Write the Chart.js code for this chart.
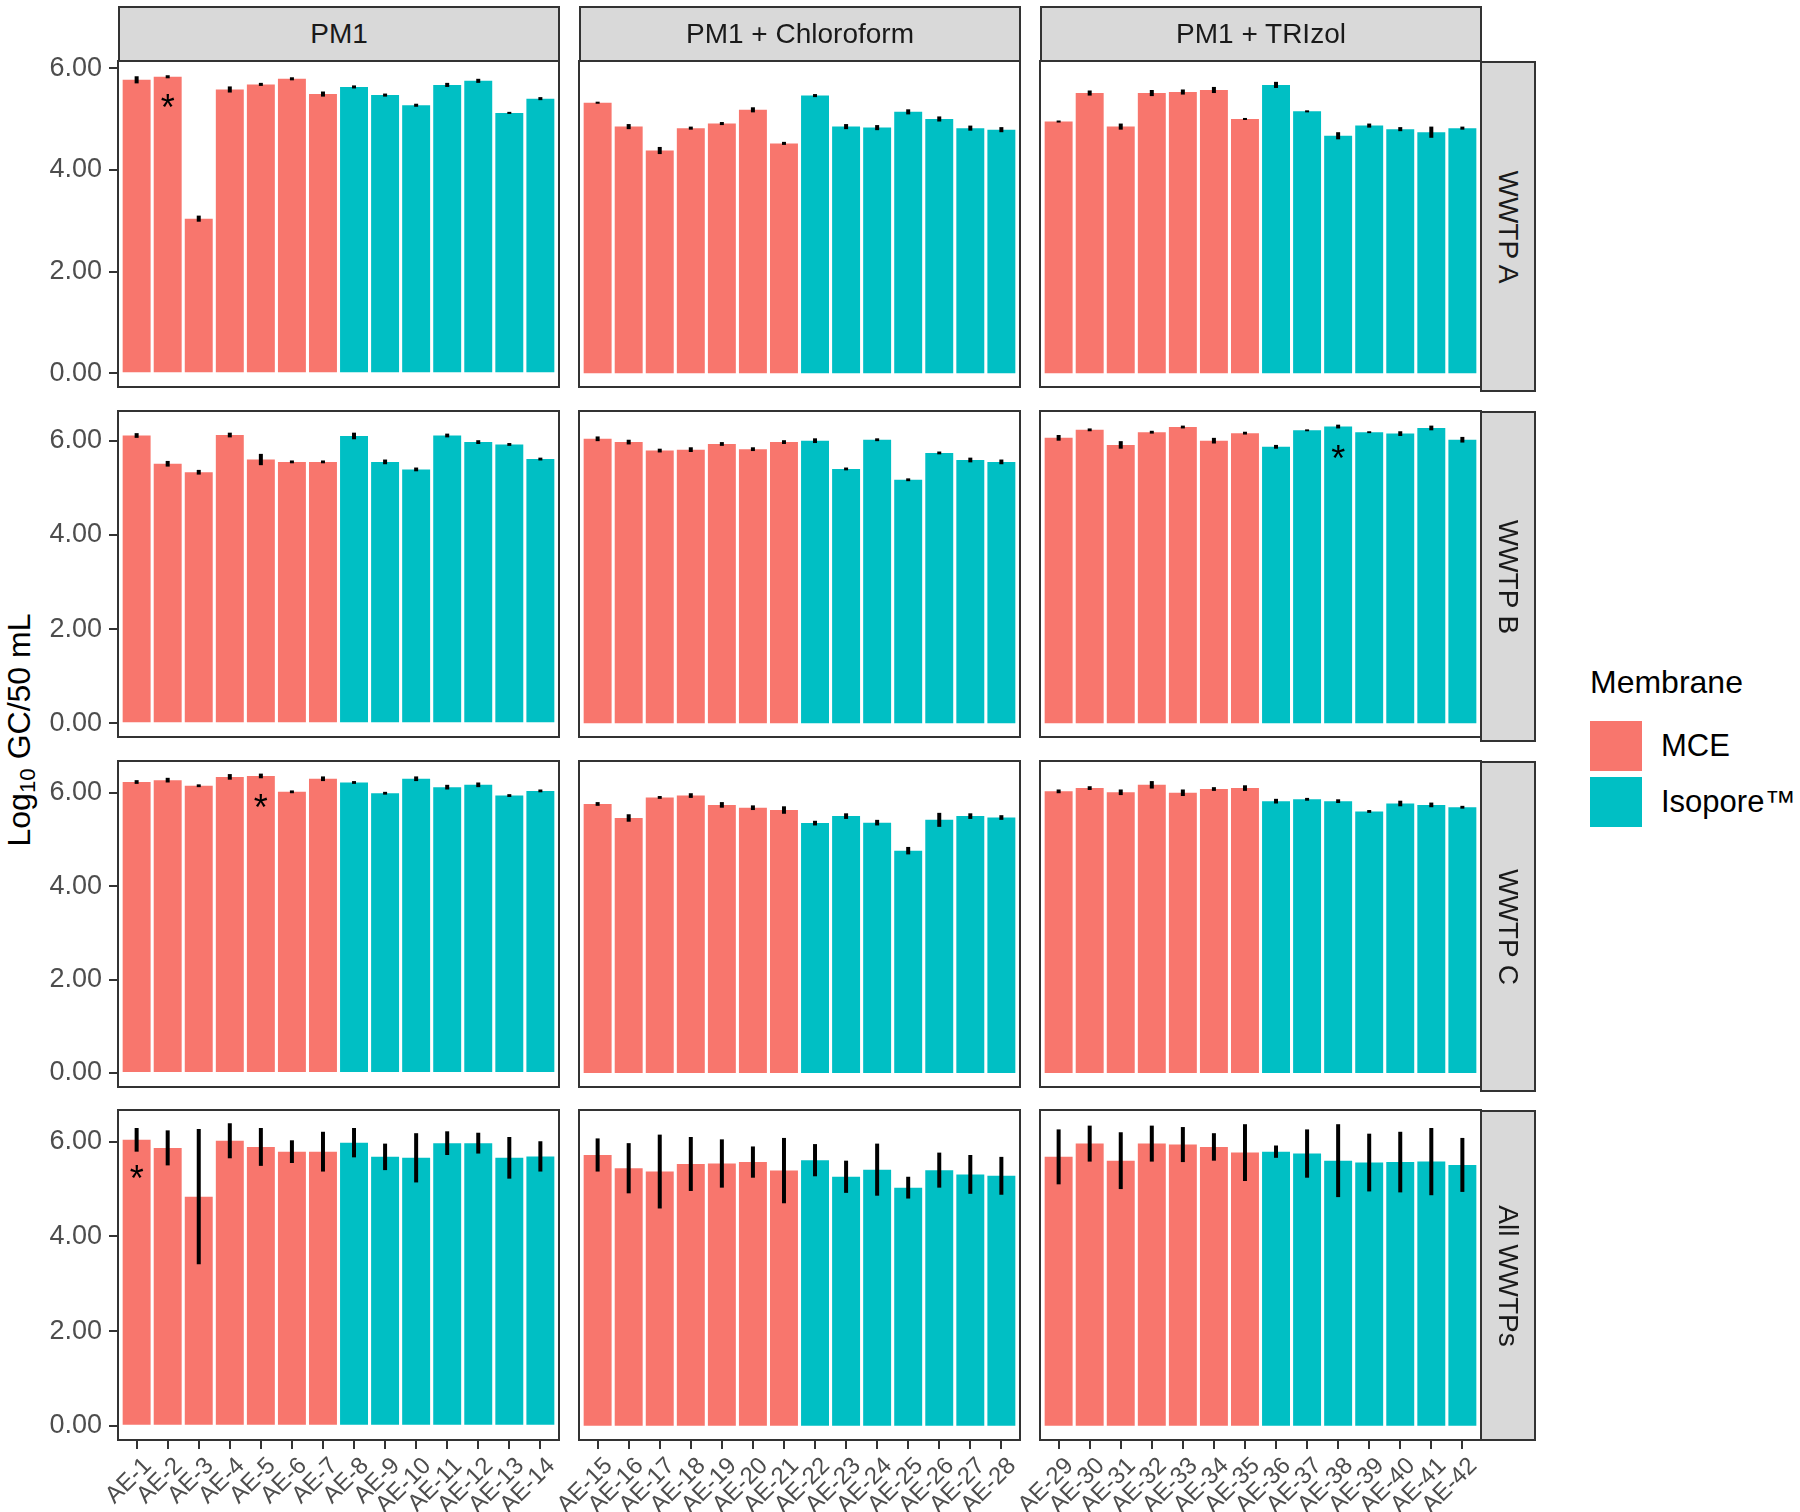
<!DOCTYPE html>
<html>
<head>
<meta charset="utf-8">
<script src="https://cdn.jsdelivr.net/npm/chart.js@4/dist/chart.umd.min.js"></script>
<style>
    body { margin: 0; background: #fff; }
    #fig { position: relative; width: 1800px; height: 1512px; overflow: hidden;
           font-family: "Liberation Sans", Arial, sans-serif; }
    #fig canvas { position: absolute; }
    .strip { position: absolute; box-sizing: border-box; background: #d9d9d9; border: 2px solid #333;
             color: #1a1a1a; font-size: 28px; display: flex; align-items: center; justify-content: center; }
    .strip span { white-space: nowrap; }
    .strip.side span { transform: rotate(90deg); }
    #ytitle { position: absolute; left: 21px; top: 730px; transform: translate(-50%, -50%) rotate(-90deg);
              font-size: 32px; white-space: nowrap; color: #000; }
    #ytitle sub { font-size: 70%; vertical-align: -0.25em; }
    .legtitle { position: absolute; left: 1590px; top: 664px; font-size: 32px; color: #000; }
    .key { position: absolute; left: 1590px; width: 52px; height: 50px; }
    .keylab { position: absolute; left: 1661px; font-size: 31px; color: #000; line-height: 50px; white-space: nowrap; }
</style>
</head>
<body>
<div id="fig">
    <div id="ytitle">Log<sub>10</sub> GC/50 mL</div>
</div>
<script>
// 样本与分组
var samples = ['AE-1', 'AE-2', 'AE-3', 'AE-4', 'AE-5', 'AE-6', 'AE-7',
    'AE-8', 'AE-9', 'AE-10', 'AE-11', 'AE-12', 'AE-13', 'AE-14',
    'AE-15', 'AE-16', 'AE-17', 'AE-18', 'AE-19', 'AE-20', 'AE-21',
    'AE-22', 'AE-23', 'AE-24', 'AE-25', 'AE-26', 'AE-27', 'AE-28',
    'AE-29', 'AE-30', 'AE-31', 'AE-32', 'AE-33', 'AE-34', 'AE-35',
    'AE-36', 'AE-37', 'AE-38', 'AE-39', 'AE-40', 'AE-41', 'AE-42'];
var membrane = ['MCE', 'MCE', 'MCE', 'MCE', 'MCE', 'MCE', 'MCE',
    'Isopore™', 'Isopore™', 'Isopore™', 'Isopore™', 'Isopore™', 'Isopore™', 'Isopore™',
    'MCE', 'MCE', 'MCE', 'MCE', 'MCE', 'MCE', 'MCE',
    'Isopore™', 'Isopore™', 'Isopore™', 'Isopore™', 'Isopore™', 'Isopore™', 'Isopore™',
    'MCE', 'MCE', 'MCE', 'MCE', 'MCE', 'MCE', 'MCE',
    'Isopore™', 'Isopore™', 'Isopore™', 'Isopore™', 'Isopore™', 'Isopore™', 'Isopore™'];
var membraneNames = ['MCE', 'Isopore™'];
var treatments = ['PM1', 'PM1 + Chloroform', 'PM1 + TRIzol'];
var plants = ['WWTP A', 'WWTP B', 'WWTP C', 'All WWTPs'];

var yTicks = [0, 2, 4, 6];
var yTickLabels = ['0.00', '2.00', '4.00', '6.00'];

// WWTP A
var meanA = [5.77, 5.83, 3.04, 5.58, 5.68, 5.79, 5.49, 5.63, 5.47, 5.27, 5.67, 5.75, 5.12, 5.40,
    5.32, 4.85, 4.38, 4.82, 4.91, 5.18, 4.52, 5.46, 4.85, 4.83, 5.14, 5.00, 4.82, 4.79,
    4.95, 5.51, 4.85, 5.51, 5.53, 5.57, 5.00, 5.67, 5.15, 4.67, 4.87, 4.80, 4.74, 4.82];
var errA = [0.07, 0.03, 0.06, 0.06, 0.03, 0.03, 0.05, 0.03, 0.03, 0.03, 0.04, 0.04, 0.02, 0.03,
    0.02, 0.05, 0.07, 0.03, 0.03, 0.05, 0.03, 0.03, 0.05, 0.05, 0.05, 0.05, 0.05, 0.05,
    0.02, 0.05, 0.06, 0.06, 0.05, 0.06, 0.02, 0.06, 0.02, 0.07, 0.04, 0.04, 0.11, 0.03];

// WWTP B
var meanB = [6.11, 5.51, 5.33, 6.12, 5.60, 5.55, 5.55, 6.10, 5.55, 5.39, 6.11, 5.97, 5.92, 5.61,
    6.04, 5.97, 5.79, 5.81, 5.93, 5.82, 5.97, 6.00, 5.40, 6.02, 5.17, 5.74, 5.59, 5.55,
    6.06, 6.23, 5.91, 6.18, 6.29, 6.00, 6.16, 5.87, 6.22, 6.30, 6.18, 6.15, 6.27, 6.02];
var errB = [0.05, 0.06, 0.05, 0.05, 0.12, 0.03, 0.03, 0.07, 0.05, 0.04, 0.04, 0.04, 0.03, 0.03,
    0.05, 0.05, 0.04, 0.05, 0.04, 0.04, 0.04, 0.05, 0.03, 0.03, 0.03, 0.03, 0.05, 0.05,
    0.06, 0.03, 0.08, 0.03, 0.03, 0.06, 0.03, 0.04, 0.02, 0.04, 0.02, 0.05, 0.05, 0.06];

// WWTP C
var meanC = [6.23, 6.27, 6.15, 6.34, 6.36, 6.02, 6.30, 6.22, 5.99, 6.30, 6.12, 6.17, 5.94, 6.04,
    5.76, 5.46, 5.90, 5.94, 5.74, 5.68, 5.63, 5.35, 5.50, 5.36, 4.76, 5.42, 5.50, 5.47,
    6.03, 6.10, 6.01, 6.17, 6.00, 6.08, 6.10, 5.82, 5.86, 5.82, 5.60, 5.77, 5.74, 5.69];
var errC = [0.04, 0.05, 0.03, 0.06, 0.05, 0.03, 0.05, 0.03, 0.03, 0.05, 0.05, 0.05, 0.03, 0.03,
    0.04, 0.08, 0.03, 0.05, 0.06, 0.05, 0.08, 0.05, 0.06, 0.06, 0.08, 0.15, 0.06, 0.05,
    0.04, 0.04, 0.06, 0.08, 0.07, 0.04, 0.06, 0.05, 0.03, 0.04, 0.03, 0.06, 0.05, 0.03];

// All WWTPs
var meanAll = [6.04, 5.87, 4.84, 6.02, 5.89, 5.79, 5.79, 5.98, 5.68, 5.66, 5.97, 5.97, 5.66, 5.69,
    5.72, 5.44, 5.37, 5.53, 5.54, 5.57, 5.39, 5.61, 5.26, 5.41, 5.03, 5.40, 5.31, 5.28,
    5.68, 5.96, 5.60, 5.96, 5.94, 5.89, 5.77, 5.79, 5.75, 5.60, 5.56, 5.57, 5.58, 5.51];
var errAll = [0.25, 0.37, 1.43, 0.37, 0.40, 0.24, 0.42, 0.31, 0.28, 0.52, 0.25, 0.22, 0.44, 0.32,
    0.35, 0.53, 0.78, 0.57, 0.51, 0.33, 0.69, 0.34, 0.34, 0.55, 0.23, 0.37, 0.41, 0.40,
    0.58, 0.38, 0.60, 0.38, 0.37, 0.29, 0.60, 0.13, 0.51, 0.77, 0.61, 0.64, 0.71, 0.57];

// 星号标注
var starRow = [0, 1, 2, 3];
var starSample = ['AE-2', 'AE-38', 'AE-5', 'AE-1'];
var starValue = [5.40, 5.80, 5.87, 5.40];

var rowMeans = [meanA, meanB, meanC, meanAll];
var rowErrs = [errA, errB, errC, errAll];

// 版面
var colors = { 'MCE': '#F8766D', 'Isopore™': '#00BFC4' };
var panelLeft = [118, 579, 1040];
var panelTop = [61, 411, 761, 1110];
var panelW = 441, panelH = 330;
var yMin = [-0.27, -0.29, -0.30, -0.30];
var yMax = [6.14, 6.63, 6.68, 6.67];
var fontFamily = '"Liberation Sans", Arial, sans-serif';

var fig = document.getElementById('fig');

var panelBorder = {
    id: 'panelBorder',
    afterDraw: function (chart) {
        var a = chart.chartArea, ctx = chart.ctx;
        ctx.save();
        ctx.strokeStyle = '#333333';
        ctx.lineWidth = 2;
        ctx.strokeRect(a.left, a.top, a.right - a.left, a.bottom - a.top);
        ctx.restore();
    }
};

var stars = {
    id: 'stars',
    afterDatasetsDraw: function (chart, args, opts) {
        var ctx = chart.ctx;
        ctx.save();
        ctx.fillStyle = '#000';
        ctx.font = '36px ' + fontFamily;
        ctx.textAlign = 'center';
        ctx.textBaseline = 'alphabetic';
        opts.items.forEach(function (s) {
            var x = chart.scales.x.getPixelForValue(s.i);
            var y = chart.scales.y.getPixelForValue(s.v);
            ctx.fillText('*', x, y + 0.58 * 36);
        });
        ctx.restore();
    }
};

function makePanel(r, c) {
    var first = c * 14;
    var labels = samples.slice(first, first + 14);
    var means = rowMeans[r].slice(first, first + 14);
    var errs = rowErrs[r].slice(first, first + 14);
    var barColors = membrane.slice(first, first + 14).map(function (m) { return colors[m]; });
    var bottom = (r === plants.length - 1);
    var padL = c === 0 ? panelLeft[0] - 40 : 62;
    var padT = 4, padR = 4;
    var padB = bottom ? 1512 - (panelTop[r] + panelH) : 4;

    var canvas = document.createElement('canvas');
    var w = padL + panelW + padR, h = padT + panelH + padB;
    canvas.width = w;
    canvas.height = h;
    canvas.style.width = w + 'px';
    canvas.style.height = h + 'px';
    canvas.style.left = (panelLeft[c] - padL) + 'px';
    canvas.style.top = (panelTop[r] - padT) + 'px';
    fig.appendChild(canvas);

    var starItems = [];
    starRow.forEach(function (sr, k) {
        var i = labels.indexOf(starSample[k]);
        if (sr === r && i >= 0) starItems.push({ i: i, v: starValue[k] });
    });

    new Chart(canvas.getContext('2d'), {
        type: 'bar',
        data: {
            datasets: [
                {
                    label: 'err',
                    data: labels.map(function (l, i) { return { x: i, y: [means[i] - errs[i], means[i] + errs[i]] }; }),
                    backgroundColor: '#000000',
                    grouped: false,
                    maxBarThickness: 4,
                    order: 0
                },
                {
                    label: 'mean',
                    data: labels.map(function (l, i) { return { x: i, y: means[i] }; }),
                    backgroundColor: barColors,
                    categoryPercentage: 1,
                    barPercentage: 0.9,
                    order: 1
                }
            ]
        },
        options: {
            responsive: false,
            animation: false,
            devicePixelRatio: 1,
            layout: { padding: { top: padT, right: padR, left: 0, bottom: bottom ? 0 : padB } },
            plugins: {
                legend: { display: false },
                tooltip: { enabled: false },
                stars: { items: starItems }
            },
            scales: {
                x: {
                    type: 'linear',
                    display: bottom,
                    offset: false,
                    min: -0.6,
                    max: 13.6,
                    afterBuildTicks: function (axis) {
                        axis.ticks = labels.map(function (l, i) { return { value: i }; });
                    },
                    afterFit: function (axis) {
                        axis.height = padB;
                        axis.paddingLeft = 0;
                        axis.paddingRight = 0;
                    },
                    grid: { display: true, offset: false, drawOnChartArea: false, drawTicks: true, tickLength: 9,
                            color: '#333333', lineWidth: 2 },
                    border: { display: false },
                    ticks: {
                        autoSkip: false,
                        minRotation: 45,
                        maxRotation: 45,
                        padding: 3,
                        labelOffset: 11,
                        color: '#4d4d4d',
                        font: { family: fontFamily, size: 24 },
                        callback: function (v) { return labels[v]; }
                    }
                },
                y: {
                    type: 'linear',
                    min: yMin[r],
                    max: yMax[r],
                    afterBuildTicks: function (axis) {
                        axis.ticks = yTicks.map(function (v) { return { value: v }; });
                    },
                    afterFit: function (axis) {
                        axis.width = padL;
                        axis.paddingTop = 0;
                        axis.paddingBottom = 0;
                    },
                    grid: { display: c === 0, drawOnChartArea: false, drawTicks: true, tickLength: 9,
                            color: '#333333', lineWidth: 2 },
                    border: { display: false },
                    ticks: {
                        display: c === 0,
                        padding: 7,
                        color: '#4d4d4d',
                        font: { family: fontFamily, size: 27 },
                        callback: function (v) { return yTickLabels[yTicks.indexOf(v)]; }
                    }
                }
            }
        },
        plugins: [panelBorder, stars]
    });
}

for (var r = 0; r < plants.length; r++) {
    for (var c = 0; c < treatments.length; c++) {
        makePanel(r, c);
    }
}

// 分面标签
treatments.forEach(function (t, c) {
    var d = document.createElement('div');
    d.className = 'strip';
    d.style.left = panelLeft[c] + 'px';
    d.style.top = '6px';
    d.style.width = (panelW + 1) + 'px';
    d.style.height = (panelTop[0] - 6 + 1) + 'px';
    d.innerHTML = '<span>' + t + '</span>';
    fig.appendChild(d);
});
plants.forEach(function (p, r) {
    var d = document.createElement('div');
    d.className = 'strip side';
    d.style.left = (panelLeft[2] + panelW - 1) + 'px';
    d.style.top = panelTop[r] + 'px';
    d.style.width = '56px';
    d.style.height = (panelH + 1) + 'px';
    d.innerHTML = '<span>' + p + '</span>';
    fig.appendChild(d);
});

// 图例
var lt = document.createElement('div');
lt.className = 'legtitle';
lt.textContent = 'Membrane';
fig.appendChild(lt);
membraneNames.forEach(function (m, k) {
    var top = 721 + k * 56;
    var key = document.createElement('div');
    key.className = 'key';
    key.style.top = top + 'px';
    key.style.background = colors[m];
    fig.appendChild(key);
    var lab = document.createElement('div');
    lab.className = 'keylab';
    lab.style.top = top + 'px';
    lab.textContent = m;
    fig.appendChild(lab);
});
</script>
</body>
</html>
